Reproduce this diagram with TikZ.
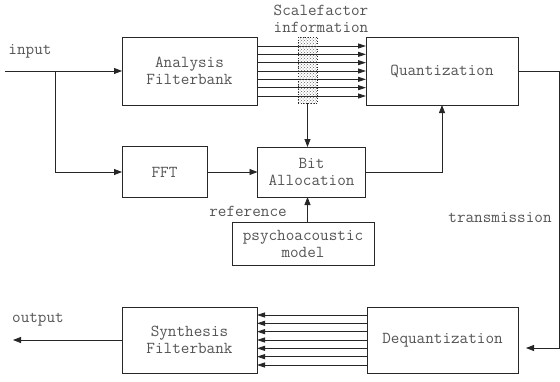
\documentclass[tikz,border=0pt]{standalone}
\usepackage{fontspec}
\setmainfont{Latin Modern Mono}
\usetikzlibrary{arrows.meta,positioning,calc,patterns}
\definecolor{TextoGris}{RGB}{85,85,85}
\definecolor{LineaGris}{RGB}{40,40,40}
\tikzset{
  blockbox/.style={draw=LineaGris, line width=0.9pt, fill=white, align=center,
    minimum width=#1, inner sep=0pt, outer sep=0pt, text=TextoGris},
  blockbox/.default=135pt,
  flowarr/.style={-{Triangle[length=8pt, width=6pt]}, line width=0.8pt, black!85},
  chanarr/.style={-{Triangle[length=8pt, width=5pt]}, line width=0.8pt, black!85},
  sfbox/.style={draw=LineaGris, dotted, line width=0.6pt, pattern=crosshatch dots,
    pattern color=black!60, minimum width=19pt, minimum height=66pt, inner sep=0pt},
  lbl/.style={text=TextoGris, inner sep=0pt, align=center},
}
\begin{document}
\begin{tikzpicture}[x=1pt, y=-1pt, every node/.style={font=\fontsize{16.7}{17}\selectfont}]
    \useasboundingbox (0,0) rectangle (560,381);

    % bloques del codificador
    \node[blockbox=135pt, minimum height=68pt] (ana) at (189.5,71) {Analysis\\Filterbank};
    \node[blockbox=152pt, minimum height=68pt] (quant) at (442,71) {Quantization};
    \node[blockbox=85pt, minimum height=51pt] (fft) at (164.5,172) {FFT};
    \node[blockbox=108pt, minimum height=50pt] (bit) at (311.5,172) {Bit\\Allocation};
    \node[blockbox=142pt, minimum height=43pt] (psy) at (303,243.5) {psychoacoustic\\model};

    % bloques del decodificador
    \node[blockbox=135pt, minimum height=66pt] (synth) at (189.5,340) {Synthesis\\Filterbank};
    \node[blockbox=151pt, minimum height=66pt] (deq) at (442.5,340) {Dequantization};

    % subbandas
    \foreach \s in {25,16.67,8.33,0,-8.33,-16.67,-25} {
      \draw[chanarr] ([yshift=\s pt]ana.east) -- ([yshift=\s pt]quant.west);
      \draw[chanarr] ([yshift=\s pt]deq.west) -- ([yshift=\s pt]synth.east);
    }
    \node[sfbox] (sf) at (307.5,70) {};
    \node[lbl] (sflbl) at (321,19) {Scalefactor\\information};

    % entrada y salida
    \coordinate (in) at (5,71);
    \coordinate (br) at (55,71);
    \coordinate (out) at (13,340);
    \node[lbl] (inlbl) at (30,51) {input};
    \node[lbl] (outlbl) at (38,320) {output};
    \draw[flowarr] (in) -- (ana.west);
    \draw[flowarr] (br) |- (fft.west);
    \draw[flowarr] (synth.west) -- (out);

    \draw[flowarr] (fft.east) -- (bit.west);
    \draw[flowarr] (sf.south) -- (sf.south |- bit.north);
    \draw[flowarr] (psy.north -| sf.south) -- (bit.south -| sf.south);
    \node[lbl] (reflbl) at (248,211) {reference};
    \draw[flowarr] (bit.east) -| (quant.south);

    % transmision
    \coordinate (tr) at (559,348);
    \coordinate (trend) at (526,348);
    \draw[flowarr] (quant.east) -| (tr) -- (trend);
    \node[lbl] (trlbl) at (500,218) {transmission};
\end{tikzpicture}
\end{document}
